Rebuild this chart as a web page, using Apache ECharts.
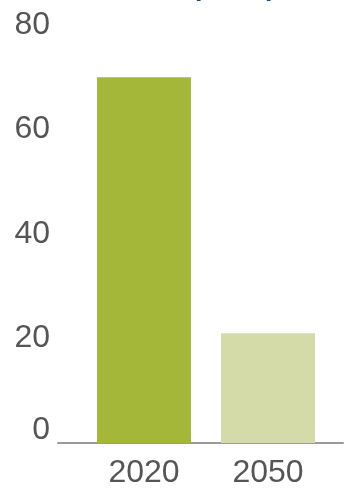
<!DOCTYPE html>
<html>
<head>
<meta charset="utf-8">
<script src="https://cdn.jsdelivr.net/npm/echarts@6/dist/echarts.min.js"></script>
<style>
  html, body { margin: 0; padding: 0; background: #fff; }
  #chart { width: 346px; height: 491px; }
</style>
</head>
<body>
<div id="chart"></div>
<script>
// data
let years = ['2020', '2050'];
let values = [70, 21];
let barColors = ['#a4b739', '#d5dba8'];
let yTicks = [0, 20, 40, 60, 80];

document.addEventListener('DOMContentLoaded', function () {
  let chart = echarts.init(document.querySelector('#chart'));

  let font = 'Liberation Sans, Arial, sans-serif';

  let option = {
    animation: false,
    // title is cut off at the top of the picture, only descenders show
    title: {
      text: 'people',
      left: 189,
      top: -46,
      textStyle: { color: '#1b4a78', fontSize: 42, fontWeight: 'normal', fontFamily: font }
    },
    grid: [
      { left: 82, right: 16, top: 25, bottom: 48 },
      { left: 58, right: 3, top: 25, bottom: 48 }
    ],
    xAxis: [
      {
        type: 'category',
        gridIndex: 0,
        data: years,
        axisLine: { show: false },
        axisTick: { show: false },
        axisLabel: { color: '#555', fontSize: 32, fontFamily: font, margin: 14 }
      },
      {
        type: 'value',
        gridIndex: 1,
        min: 0,
        max: 1,
        axisLine: { show: true, lineStyle: { color: '#9a9a9a', width: 2 } },
        axisTick: { show: false },
        axisLabel: { show: false },
        splitLine: { show: false }
      }
    ],
    yAxis: [
      {
        type: 'value',
        gridIndex: 0,
        min: yTicks[0],
        max: yTicks[yTicks.length - 1],
        interval: 20,
        show: false
      },
      {
        type: 'value',
        gridIndex: 1,
        min: yTicks[0],
        max: yTicks[yTicks.length - 1],
        interval: 20,
        axisLine: { show: false },
        axisTick: { show: false },
        splitLine: { show: false },
        axisLabel: {
          color: '#555',
          fontSize: 32,
          fontFamily: font,
          margin: 8,
          formatter: function (v) {
            return v === 0 ? '{z|0}' : String(v);
          },
          rich: {
            z: { fontSize: 32, fontFamily: font, color: '#555', padding: [0, 0, 26, 0] }
          }
        }
      }
    ],
    series: [
      {
        type: 'bar',
        xAxisIndex: 0,
        yAxisIndex: 0,
        barWidth: 94,
        data: values.map(function (v, i) {
          return { value: v, itemStyle: { color: barColors[i] } };
        })
      }
    ]
  };

  chart.setOption(option);
});
</script>
</body>
</html>
